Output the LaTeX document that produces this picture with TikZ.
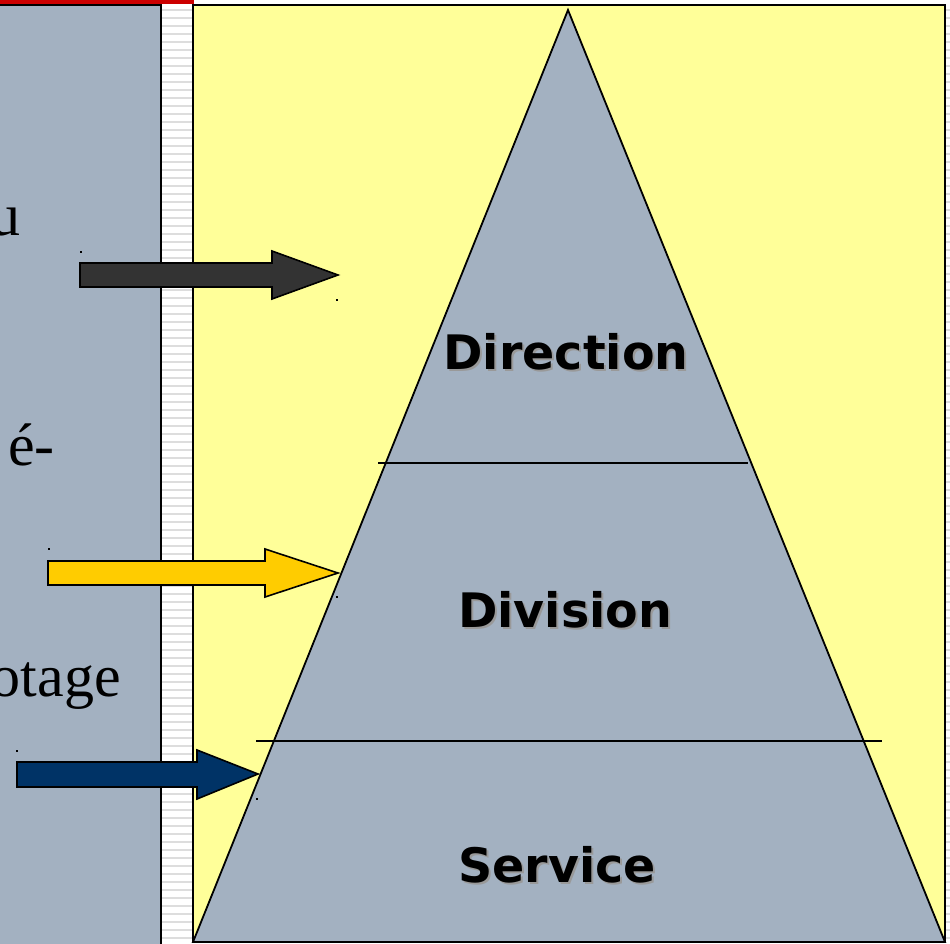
\documentclass[tikz,border=0pt]{standalone}
\usepackage{fontspec}
\setmainfont{Liberation Serif}
\newfontfamily\levelfont{DejaVu Sans}
\definecolor{panel}{HTML}{A3B1C1}
\definecolor{paleyellow}{HTML}{FFFF99}
\definecolor{topred}{HTML}{CC0000}
\definecolor{stripe}{HTML}{DDDDDD}
\definecolor{arrowdark}{HTML}{333333}
\definecolor{arrowgold}{HTML}{FFCC00}
\definecolor{arrownavy}{HTML}{003366}
\begin{document}
\begin{tikzpicture}[x=1pt,y=-1pt,
  frame/.style={line width=2pt},
  blockarrow/.style={draw=black, line width=1.6pt, line join=miter},
  level/.style={font=\levelfont\bfseries\fontsize{47.5}{56}\selectfont, anchor=base, inner sep=0pt},
  levelshadow/.style={level, text=black!40},
  sidetext/.style={font=\fontsize{60}{72}\selectfont, anchor=base east, inner sep=0pt},
  tick/.style={fill=black}]
\useasboundingbox (0,0) rectangle (950,944);
\fill[white] (0,0) rectangle (950,944);

% left panel
\fill[panel] (0,5) rectangle (161,944);

% striped separator bar
\fill[white] (162,5) rectangle (193,944);
\foreach \y in {9,17,...,941} \fill[stripe] (162,\y) rectangle (193,\y+2);
\foreach \y in {9,17,...,941} \fill[stripe] (946,\y) rectangle (950,\y+2);
\draw[frame] (0,5) -- (161,5) -- (161,944);

% red top rule
\fill[topred] (0,0) rectangle (194,4);

% yellow area
\draw[frame, fill=paleyellow] (193,5) rectangle (945,942);

% pyramid
\draw[line width=1.8pt, fill=panel, line join=miter] (568,10) -- (945,942) -- (193,942) -- cycle;
\coordinate (d1) at (378,463);
\coordinate (d2) at (748,463);
\coordinate (s1) at (256,741);
\coordinate (s2) at (882,741);
\draw[line width=1.5pt] (d1) -- (d2);
\draw[line width=1.5pt] (s1) -- (s2);

% level labels with soft shadow
\node[levelshadow] at (568,371) {Direction};
\node[level] (direction) at (566,369) {Direction};
\node[levelshadow] at (567,629) {Division};
\node[level] (division) at (565,627) {Division};
\node[levelshadow] at (559,884) {Service};
\node[level] (service) at (557,882) {Service};

% side text, running off the left edge
\node[sidetext] (t1) at (21,236) {u};
\node[sidetext] (t2) at (55,465) {é-};
\node[sidetext] (t3) at (121,696) {otage};

% block arrows
\draw[blockarrow, fill=arrowdark] (80,263) -- (272,263) -- (272,251) -- (338,275) -- (272,299) -- (272,287) -- (80,287) -- cycle;
\draw[blockarrow, fill=arrowgold] (48,561) -- (265,561) -- (265,549) -- (338,573) -- (265,597) -- (265,585) -- (48,585) -- cycle;
\draw[blockarrow, fill=arrownavy] (17,762) -- (197,762) -- (197,750) -- (258,774) -- (197,799) -- (197,787) -- (17,787) -- cycle;

% small corner marks
\fill[tick] (80,251) rectangle (82,252.5);
\fill[tick] (336,299) rectangle (338,300.5);
\fill[tick] (48,548) rectangle (50,549.5);
\fill[tick] (336,596) rectangle (338,597.5);
\fill[tick] (16,750) rectangle (18,751.5);
\fill[tick] (256,798) rectangle (258,799.5);
\end{tikzpicture}
\end{document}
